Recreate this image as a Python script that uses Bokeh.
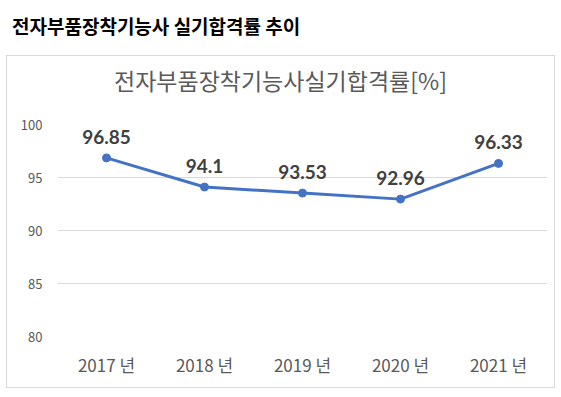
from bokeh.plotting import figure
from bokeh.models import ColumnDataSource, FixedTicker, LabelSet, Range1d, Div
from bokeh.layouts import column
from bokeh.core.properties import value
from bokeh.embed import file_html
from bokeh.resources import INLINE

years = ["2017 년", "2018 년", "2019 년", "2020 년", "2021 년"]
rates = [96.85, 94.1, 93.53, 92.96, 96.33]
rate_labels = ["96.85", "94.1", "93.53", "92.96", "96.33"]
y_ticks = [80, 85, 90, 95, 100]

heading_text = "전자부품장착기능사 실기합격률 추이"
chart_title = "전자부품장착기능사실기합격률[%]"

FONT = "Noto Sans CJK KR"
NUM_FONT = "Lato"

src = ColumnDataSource(dict(x=years, y=rates, lab=rate_labels))

heading = Div(
    text=heading_text, width=540, height=55, margin=(0, 0, 0, 12),
    styles={"font-family": FONT, "font-weight": "bold", "font-size": "19px",
            "color": "#000000", "line-height": "52px", "white-space": "nowrap"},
)

title_div = Div(
    text=chart_title, width=547, height=50, margin=(0, 0, 0, 0),
    styles={"font-family": FONT, "font-size": "23px", "color": "#595959",
            "line-height": "48px", "text-align": "center", "white-space": "nowrap"},
)

p = figure(
    x_range=years, y_range=Range1d(80, 100),
    width=547, height=281,
    output_backend="svg", toolbar_location=None,
    min_border_left=50, min_border_right=7, min_border_top=18, min_border_bottom=51,
    margin=(0, 0, 0, 0),
)
p.outline_line_color = None
p.xgrid.grid_line_color = None
p.ygrid.grid_line_color = "#d9d9d9"
p.ygrid.grid_line_width = 1
p.yaxis.ticker = FixedTicker(ticks=y_ticks)

for ax in (p.xaxis[0], p.yaxis[0]):
    ax.axis_line_color = None
    ax.major_tick_line_color = None
    ax.minor_tick_line_color = None
    ax.major_label_text_font = FONT
    ax.major_label_text_color = "#595959"

p.yaxis.major_label_text_font_size = "13px"
p.yaxis.major_label_standoff = 9
p.xaxis.major_label_text_font_size = "17px"
p.xaxis.major_label_standoff = 9

p.line("x", "y", source=src, line_color="#4472C4", line_width=3)
p.scatter("x", "y", source=src, size=8, fill_color="#4472C4", line_color="#4472C4")

labels = LabelSet(x="x", y="y", text="lab", source=src, x_offset=0, y_offset=14,
                  text_align="center", text_baseline="bottom",
                  text_font=value(NUM_FONT), text_font_size=value("19px"),
                  text_font_style="bold", text_color="#404040")
p.add_layout(labels)

box = column(title_div, p, spacing=0, margin=(0, 0, 0, 6),
             styles={"border": "1px solid #d9d9d9"})
layout = column(heading, box, spacing=0, margin=(0, 0, 0, 0))

with open("out.html", "w") as f:
    f.write(file_html(layout, INLINE))
